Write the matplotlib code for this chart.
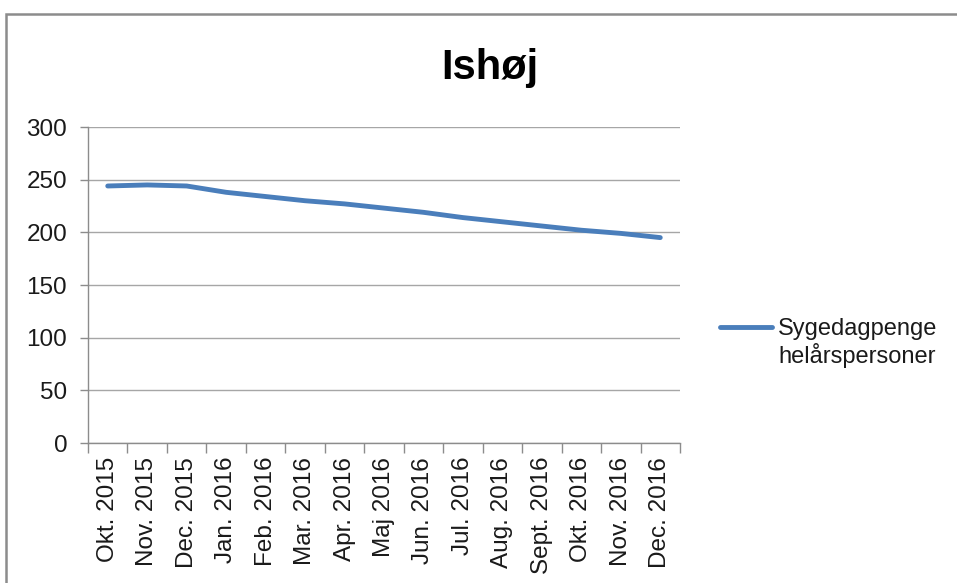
import matplotlib
matplotlib.use("Agg")
import matplotlib.pyplot as plt
from matplotlib.patches import Rectangle
from matplotlib.lines import Line2D

categories = ["Okt. 2015", "Nov. 2015", "Dec. 2015", "Jan. 2016", "Feb. 2016",
              "Mar. 2016", "Apr. 2016", "Maj 2016", "Jun. 2016", "Jul. 2016",
              "Aug. 2016", "Sept. 2016", "Okt. 2016", "Nov. 2016", "Dec. 2016"]
values = [244, 245, 244, 238, 234, 230, 227, 223, 219, 214, 210, 206, 202, 199, 195]
yticks = [0, 50, 100, 150, 200, 250, 300]
series_name = "Sygedagpenge\nhelårspersoner"
title = "Ishøj"

plt.rcParams['font.family'] = ['Liberation Sans', 'DejaVu Sans']
text_color = "#1a1a1a"

W, H = 957, 583
fig = plt.figure(figsize=(W / 100, H / 100), dpi=100)

# chart border
fig.patches.append(Rectangle((6 / W, -0.1), 1.2, 1 - 14 / H + 0.1, transform=fig.transFigure,
                             fill=False, edgecolor="#8c8c8c", linewidth=1.8))

left, right, top, bottom = 88 / W, 680 / W, 1 - 127 / H, 1 - 443 / H
ax = fig.add_axes([left, bottom, right - left, top - bottom])

x = list(range(len(categories)))
ax.plot(x, values, color="#4a7ebb", linewidth=3.5, solid_capstyle="round")

ax.set_xlim(-0.5, len(categories) - 0.5)
ax.set_ylim(0, 300)
ax.set_yticks(yticks)
ax.yaxis.grid(True, color="#a6a6a6", linewidth=1)
ax.set_axisbelow(True)

ax.set_xticks([i + 0.5 for i in range(-1, len(categories))], minor=False)
ax.set_xticklabels([])
ax.set_xticks(x, minor=True)
ax.set_xticklabels(categories, minor=True, rotation=90, fontsize=17.5, color=text_color)
ax.tick_params(axis="x", which="minor", length=0, pad=10)
ax.tick_params(axis="x", which="major", length=7, color="#8c8c8c", width=1)
ax.tick_params(axis="y", length=6, color="#8c8c8c", width=1, labelsize=17.5,
               labelcolor=text_color, pad=9)

for s in ["top", "right"]:
    ax.spines[s].set_visible(False)
for s in ["left", "bottom"]:
    ax.spines[s].set_color("#8c8c8c")
    ax.spines[s].set_linewidth(1)

fig.text(490 / W, 1 - 68 / H, title, fontsize=30, fontweight="bold",
         ha="center", va="center", color="black")

# legend
fig.lines.append(Line2D([720 / W, 772 / W], [1 - 327 / H, 1 - 327 / H],
                        transform=fig.transFigure, color="#4a7ebb", linewidth=3.5,
                        solid_capstyle="round"))
fig.text(778 / W, 1 - 343 / H, series_name, fontsize=17, ha="left", va="center",
         linespacing=1.2, color=text_color)

fig.savefig("out.png", dpi=100)
